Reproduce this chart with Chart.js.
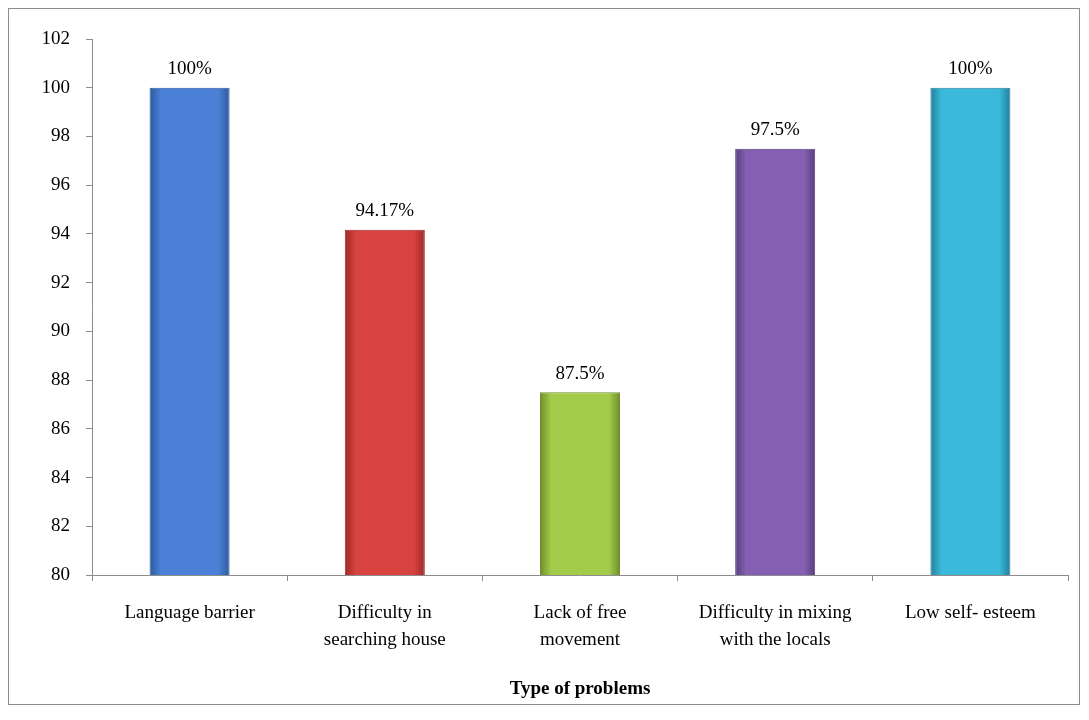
<!DOCTYPE html>
<html>
<head>
<meta charset="utf-8">
<script src="https://cdn.jsdelivr.net/npm/chart.js@4"></script>
<style>
  html, body { margin: 0; padding: 0; background: #fff; }
  #wrap { width: 1089px; height: 720px; position: relative; }
</style>
</head>
<body>
<div id="wrap"><canvas id="problemsChart" width="1089" height="720"></canvas></div>
<script>
const categories = [['Language barrier'], ['Difficulty in', 'searching house'], ['Lack of free', 'movement'], ['Difficulty in mixing', 'with the locals'], ['Low self- esteem']];
const percentValues = [100, 94.17, 87.5, 97.5, 100];
const valueLabels = ['100%', '94.17%', '87.5%', '97.5%', '100%'];
const barColors = ['#4a80d6', '#d8433f', '#a3cb4b', '#8560b2', '#3ab9da'];
const barEdges = ['#2d5a9e', '#9c2a27', '#6f8f2c', '#573d7d', '#237f99'];

const serif = '"Liberation Serif", "Times New Roman", serif';
const barPct = 0.41;

function barFill(ctx) {
    const i = ctx.dataIndex;
    const xs = ctx.chart.scales && ctx.chart.scales.x;
    if (!xs) return barColors[i];
    const cx = xs.getPixelForValue(i);
    const w = (xs.width / categories.length) * barPct;
    if (!Number.isFinite(cx) || !Number.isFinite(w) || w <= 0) return barColors[i];
    const g = ctx.chart.ctx.createLinearGradient(cx - w / 2, 0, cx + w / 2, 0);
    g.addColorStop(0, barEdges[i]);
    g.addColorStop(0.14, barColors[i]);
    g.addColorStop(0.5, barColors[i]);
    g.addColorStop(0.86, barColors[i]);
    g.addColorStop(1, barEdges[i]);
    return g;
}

const frameAndLabels = {
    id: 'frameAndLabels',
    afterDraw(chart) {
        const c = chart.ctx;
        c.save();
        c.strokeStyle = '#8c8c8c';
        c.lineWidth = 1;
        c.strokeRect(8.5, 8.5, 1071, 696);
        c.fillStyle = '#000';
        c.font = '19px ' + serif;
        c.textAlign = 'center';
        c.textBaseline = 'bottom';
        chart.getDatasetMeta(0).data.forEach((bar, i) => {
            c.fillText(valueLabels[i], bar.x, bar.y - 9);
        });
        c.restore();
    }
};

new Chart(document.getElementById('problemsChart').getContext('2d'), {
    type: 'bar',
    data: {
        labels: categories,
        datasets: [{
            data: percentValues,
            backgroundColor: barFill,
            borderColor: barEdges,
            borderWidth: 1,
            categoryPercentage: 1,
            barPercentage: barPct
        }]
    },
    options: {
        responsive: false,
        animation: false,
        devicePixelRatio: 1,
        layout: { padding: { left: 20, right: 21, top: 39, bottom: 16 } },
        plugins: { legend: { display: false }, tooltip: { enabled: false } },
        scales: {
            y: {
                min: 80, max: 102,
                ticks: { stepSize: 2, color: '#000', font: { family: serif, size: 19 }, padding: 16 },
                grid: { drawOnChartArea: false, color: '#8c8c8c', tickLength: 6 },
                border: { color: '#8c8c8c' },
                afterFit(scale) { scale.width = 72; }
            },
            x: {
                offset: true,
                ticks: { color: '#000', font: { family: serif, size: 19, lineHeight: 1.45 }, padding: 18, maxRotation: 0, autoSkip: false },
                grid: { offset: true, drawOnChartArea: false, color: '#8c8c8c', tickLength: 6 },
                border: { color: '#8c8c8c' },
                title: { display: true, text: 'Type of problems', color: '#000', font: { family: serif, size: 19, weight: 'bold' }, padding: { top: 16 } },
                afterFit(scale) { scale.height = 129; }
            }
        }
    },
    plugins: [frameAndLabels]
});
</script>
</body>
</html>
